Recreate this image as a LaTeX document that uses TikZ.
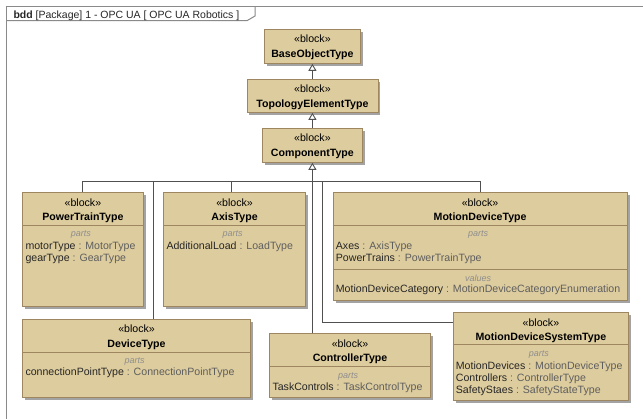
\documentclass[tikz,border=0pt]{standalone}
\usepackage{fontspec}
\setmainfont{Liberation Sans}
\usetikzlibrary{arrows.meta,shadows}

\definecolor{blockfill}{HTML}{DDCC9E}
\definecolor{blockline}{HTML}{9E8660}
\definecolor{typegray}{HTML}{5E5E5E}
\definecolor{labelgray}{HTML}{8E8E8E}
\definecolor{wirecol}{HTML}{505050}
\definecolor{framegray}{HTML}{8A8A8A}

% block header: stereotype and name
\newcommand\blkhead[2]{%
  \node[stereo] (#1-st) at ([yshift=-14pt]#1.north) {«block»};
  \node[bname] (#1-nm) at ([yshift=-28.5pt]#1.north) {#2};}
% horizontal compartment rule inside a block
\newcommand\blkrule[2]{%
  \draw[seprule] ([yshift=-#2pt]#1.north west) -- ([yshift=-#2pt]#1.north east);}
% compartment label (parts / values)
\newcommand\blkgroup[4]{%
  \node[grp] (#1) at ([xshift=-2pt,yshift=-#3pt]#2.north) {#4};}
% one property line: name : type
\newcommand\blkattr[5]{%
  \node[attr] (#1) at ([xshift=3pt,yshift=-#3pt]#2.north west) {#4 \textcolor{typegray}{: #5}};}

\begin{document}
\begin{tikzpicture}[x=1pt,y=-1pt,
  blockbox/.style={draw=blockline, fill=blockfill, line width=0.8pt, inner sep=0pt,
    anchor=north west,
    drop shadow={shadow xshift=2.5pt, shadow yshift=-2.5pt, fill=black!45, opacity=0.8}},
  stereo/.style={anchor=base, inner sep=0pt, font=\fontsize{10.6}{12}\selectfont},
  bname/.style={anchor=base, inner sep=0pt, font=\fontsize{10.6}{12}\selectfont\bfseries},
  grp/.style={anchor=base, inner sep=0pt, text=labelgray, font=\fontsize{9}{10}\selectfont\itshape},
  attr/.style={anchor=base west, inner sep=0pt, text=black!85, font=\fontsize{10.6}{12}\selectfont},
  seprule/.style={draw=blockline, line width=0.8pt},
  wirestyle/.style={draw=wirecol, line width=0.9pt},
  gen/.style={wirestyle, -{Triangle[open, width=8pt, length=7pt, fill=white]}},
  framestyle/.style={draw=framegray, line width=1pt}]

\fill[white] (0,0) rectangle (643,419);
\useasboundingbox (0,0) rectangle (643,419);
\clip (0,0) rectangle (643,419);

% diagram frame
\draw[framestyle] (6.5,430) -- (6.5,6.5) -- (660,6.5);
\draw[framestyle] (6.5,20.7) -- (247,20.7) -- (255,16) -- (255,6.5);
\node[anchor=base west, inner sep=0pt, font=\fontsize{10.5}{12}\selectfont, text=black!85]
  (title) at (13.3,18.6) {\textbf{bdd} [Package] 1 - OPC UA [ OPC UA Robotics ]};

% blocks
\node[blockbox, minimum width=96pt,    minimum height=34pt]    (base) at (264,29) {};
\node[blockbox, minimum width=131pt,   minimum height=33pt]    (topo) at (246.5,79) {};
\node[blockbox, minimum width=100pt,   minimum height=34pt]    (comp) at (262,128) {};
\node[blockbox, minimum width=120.4pt, minimum height=113.7pt] (pt)   at (22.3,192.3) {};
\node[blockbox, minimum width=141.7pt, minimum height=113.7pt] (axis) at (163.3,192.3) {};
\node[blockbox, minimum width=294pt,   minimum height=107.7pt] (md)   at (332.7,192.3) {};
\node[blockbox, minimum width=227.7pt, minimum height=77.7pt]  (dev)  at (22.3,319) {};
\node[blockbox, minimum width=160.7pt, minimum height=64pt]    (ctrl) at (269.3,333.3) {};
\node[blockbox, minimum width=175.6pt, minimum height=87.7pt]  (mdst) at (452.7,312.3) {};

\blkhead{base}{BaseObjectType}
\blkhead{topo}{TopologyElementType}
\blkhead{comp}{ComponentType}

\blkhead{pt}{PowerTrainType}
\blkrule{pt}{33}
\blkgroup{pt-parts}{pt}{44.5}{parts}
\blkattr{pt-a1}{pt}{57.5}{motorType}{MotorType}
\blkattr{pt-a2}{pt}{69.5}{gearType}{GearType}

\blkhead{axis}{AxisType}
\blkrule{axis}{33}
\blkgroup{axis-parts}{axis}{44.5}{parts}
\blkattr{axis-a1}{axis}{57.5}{AdditionalLoad}{LoadType}

\blkhead{md}{MotionDeviceType}
\blkrule{md}{33.4}
\blkgroup{md-parts}{md}{44.5}{parts}
\blkattr{md-a1}{md}{57}{Axes}{AxisType}
\blkattr{md-a2}{md}{69}{PowerTrains}{PowerTrainType}
\blkrule{md}{76.7}
\blkgroup{md-values}{md}{89}{values}
\blkattr{md-a3}{md}{100.3}{MotionDeviceCategory}{MotionDeviceCategoryEnumeration}

\blkhead{dev}{DeviceType}
\blkrule{dev}{33.3}
\blkgroup{dev-parts}{dev}{45}{parts}
\blkattr{dev-a1}{dev}{57}{connectionPointType}{ConnectionPointType}

\blkhead{ctrl}{ControllerType}
\blkrule{ctrl}{33.4}
\blkgroup{ctrl-parts}{ctrl}{45}{parts}
\blkattr{ctrl-a1}{ctrl}{57.5}{TaskControls}{TaskControlType}

\blkhead{mdst}{MotionDeviceSystemType}
\blkrule{mdst}{32}
\blkgroup{mdst-parts}{mdst}{44.5}{parts}
\blkattr{mdst-a1}{mdst}{57}{MotionDevices}{MotionDeviceType}
\blkattr{mdst-a2}{mdst}{69}{Controllers}{ControllerType}
\blkattr{mdst-a3}{mdst}{81.3}{SafetyStaes}{SafetyStateType}

% generalizations
\draw[gen] (topo.north) -- (base.south);
\draw[gen] (comp.north) -- (topo.south);

\coordinate (bus) at (0,181.5);
\coordinate (hub) at (comp.south |- bus);
\coordinate (hub2) at ([xshift=10.5pt]hub);

\draw[wirestyle] (pt.north) |- (hub);
\draw[wirestyle] ([xshift=-3pt]axis.north) |- (hub);
\draw[wirestyle] (md.north) |- (hub);
\draw[wirestyle] ([xshift=17pt]dev.north) |- (hub);
\draw[wirestyle] ([yshift=-10.5pt]mdst.north west) -| (hub2) -- (hub);
\draw[gen] (comp.south |- ctrl.north) -- (comp.south);

\end{tikzpicture}
\end{document}
